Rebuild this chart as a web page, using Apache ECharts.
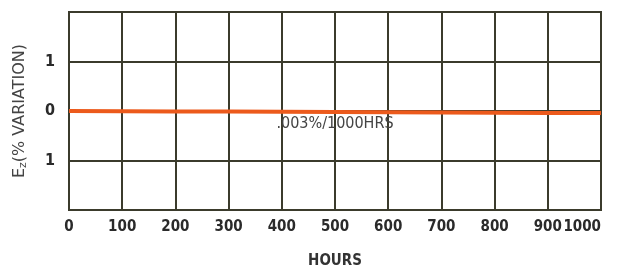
<!DOCTYPE html>
<html>
<head>
<meta charset="utf-8">
<script src="https://cdn.jsdelivr.net/npm/echarts@6/dist/echarts.min.js"></script>
<style>
  html, body { margin: 0; padding: 0; background: #fff; }
  #chart { width: 617px; height: 268px; }
</style>
</head>
<body>
<div id="chart"></div>
<script>
// hours along the x axis, drift in % variation
var hours = [0, 100, 200, 300, 400, 500, 600, 700, 800, 900, 1000];
var drift = [0, -0.005, -0.01, -0.01, -0.015, -0.02, -0.025, -0.03, -0.035, -0.04, -0.04];
var yTicks = [-2, -1, 0, 1, 2];
var noteText = '.003%/1000HRS';
var notePos = [500, -0.26];

var myChart = echarts.init(document.getElementById('chart'));

var gridColor = '#3b3b2c';
var labelFont = 'DejaVu Sans Condensed, sans-serif';

var option = {
  animation: false,
  grid: {
    left: 69,
    right: 16,
    top: 12,
    bottom: 58,
    outerBoundsMode: 'none',
    containLabel: false,
    show: true,
    borderColor: gridColor,
    borderWidth: 2
  },
  xAxis: {
    type: 'value',
    min: 0,
    max: 1000,
    interval: 100,
    name: 'HOURS',
    nameLocation: 'middle',
    nameGap: 44,
    nameTextStyle: { fontFamily: labelFont, fontSize: 15, fontWeight: 'bold', color: '#333' },
    axisLine: { lineStyle: { color: gridColor, width: 2 } },
    axisTick: { show: false },
    axisLabel: {
      fontFamily: labelFont, fontSize: 15, fontWeight: 'bold', color: '#2a2a2a', margin: 10,
      showMaxLabel: true,
      showMinLabel: true,
      hideOverlap: false,
      alignMaxLabel: 'right',
      formatter: function (v) { return String(v); }
    },
    splitLine: { show: true, lineStyle: { color: gridColor, width: 2 } }
  },
  yAxis: {
    type: 'value',
    min: yTicks[0],
    max: yTicks[yTicks.length - 1],
    interval: 1,
    name: 'E{sub|z}(% VARIATION)',
    nameLocation: 'middle',
    nameGap: 40,
    nameRotate: 90,
    nameTextStyle: {
      fontFamily: 'DejaVu Sans', fontSize: 16, color: '#444',
      rich: { sub: { fontFamily: 'DejaVu Sans', fontSize: 11, color: '#444', verticalAlign: 'bottom', padding: [7, 0, 0, 0] } }
    },
    axisLine: { lineStyle: { color: gridColor, width: 2 } },
    axisTick: { show: false },
    axisLabel: {
      fontFamily: labelFont, fontSize: 16, fontWeight: 'bold', color: '#2a2a2a', margin: 14,
      formatter: function (v) { return Math.abs(v) === 2 ? '' : String(Math.abs(v)); }
    },
    splitLine: { show: true, lineStyle: { color: gridColor, width: 2 } }
  },
  series: [
    {
      type: 'line',
      data: hours.map(function (h, i) { return [h, drift[i]]; }),
      showSymbol: false,
      lineStyle: { color: '#ec5a1c', width: 4 },
      z: 5,
      markPoint: {
        symbol: 'circle',
        symbolSize: 0,
        data: [{ coord: notePos }],
        label: {
          show: true,
          formatter: noteText,
          fontFamily: 'DejaVu Sans Condensed, sans-serif',
          fontSize: 16,
          color: '#444',
          position: 'inside'
        }
      }
    }
  ]
};

myChart.setOption(option);
</script>
</body>
</html>
